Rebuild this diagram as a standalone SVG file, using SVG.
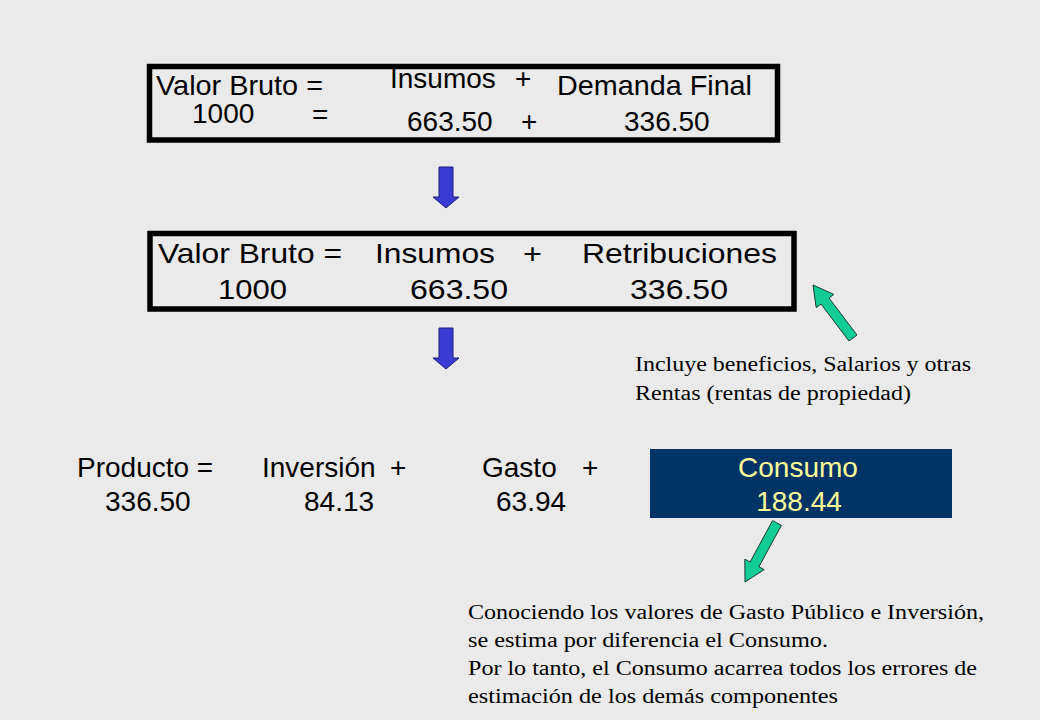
<svg xmlns="http://www.w3.org/2000/svg" width="1040" height="720" viewBox="0 0 1040 720">
<style>
.bg{fill:#eaeaea}
.box{fill:none;stroke:#000;stroke-width:5.5}
.s{font-family:"Liberation Sans",Arial,sans-serif;font-size:28px;fill:#000}
.y{fill:#ffff99}
.t{font-family:"Liberation Serif","Times New Roman",serif;font-size:20px;fill:#000}
.blue{fill:#3a3ad4;stroke:#1c1c7a;stroke-width:1}
.teal{fill:#12cc96;stroke:#1b3b30;stroke-width:1}
</style>
<defs>
<polygon id="downArrow" points="439,167 453,167 453,197 459,197 446,208 433,197 439,197"/>
</defs>
<rect class="bg" x="0" y="0" width="1040" height="720"/>

<g id="eq1">
<rect class="box" x="149.5" y="66.5" width="628" height="73.5"/>
<text class="s" x="156" y="95" textLength="167" lengthAdjust="spacingAndGlyphs">Valor Bruto =</text>
<text class="s" x="390" y="88">Insumos</text>
<text class="s" x="515" y="88">+</text>
<text class="s" x="557" y="95" textLength="195" lengthAdjust="spacingAndGlyphs">Demanda Final</text>
<text class="s" x="192" y="123">1000</text>
<text class="s" x="312" y="124">=</text>
<text class="s" x="407" y="131">663.50</text>
<text class="s" x="521" y="131">+</text>
<text class="s" x="624" y="131">336.50</text>
</g>

<g id="eq2">
<rect class="box" x="150" y="233.5" width="644" height="75.5"/>
<text class="s" x="158" y="263" textLength="184" lengthAdjust="spacingAndGlyphs">Valor Bruto =</text>
<text class="s" x="375" y="263" textLength="120" lengthAdjust="spacingAndGlyphs">Insumos</text>
<text class="s" x="523" y="263" textLength="19" lengthAdjust="spacingAndGlyphs">+</text>
<text class="s" x="582" y="263" textLength="195" lengthAdjust="spacingAndGlyphs">Retribuciones</text>
<text class="s" x="218" y="299" textLength="69" lengthAdjust="spacingAndGlyphs">1000</text>
<text class="s" x="410" y="299" textLength="98" lengthAdjust="spacingAndGlyphs">663.50</text>
<text class="s" x="630" y="299" textLength="98" lengthAdjust="spacingAndGlyphs">336.50</text>
</g>

<g id="note1">
<text class="t" x="635" y="371" textLength="336" lengthAdjust="spacingAndGlyphs">Incluye beneficios, Salarios y otras</text>
<text class="t" x="635" y="400" textLength="276" lengthAdjust="spacingAndGlyphs">Rentas (rentas de propiedad)</text>
</g>

<g id="eq3">
<text class="s" x="77" y="477">Producto =</text>
<text class="s" x="262" y="477">Inversión</text>
<text class="s" x="390" y="477">+</text>
<text class="s" x="482" y="477">Gasto</text>
<text class="s" x="582" y="477">+</text>
<text class="s" x="105" y="511">336.50</text>
<text class="s" x="304" y="511">84.13</text>
<text class="s" x="496" y="511">63.94</text>
</g>

<g id="consumo">
<rect x="650" y="449" width="302" height="69" fill="#003366"/>
<text class="s y" x="798" y="477" text-anchor="middle">Consumo</text>
<text class="s y" x="799" y="511" text-anchor="middle">188.44</text>
</g>

<g id="note2">
<text class="t" x="468" y="619" textLength="516" lengthAdjust="spacingAndGlyphs">Conociendo los valores de Gasto Público e Inversión,</text>
<text class="t" x="468" y="647" textLength="360" lengthAdjust="spacingAndGlyphs">se estima por diferencia el Consumo.</text>
<text class="t" x="468" y="675" textLength="509" lengthAdjust="spacingAndGlyphs">Por lo tanto, el Consumo acarrea todos los errores de</text>
<text class="t" x="468" y="703" textLength="370" lengthAdjust="spacingAndGlyphs">estimación de los demás componentes</text>
</g>

<g id="connectors">
<use href="#downArrow" class="blue"/>
<use href="#downArrow" class="blue" transform="translate(0,161)"/>
<polygon class="teal" points="857,335 829,298 833.8,294.4 813,285 816.2,307.6 821,304 849,341"/>
<polygon class="teal" points="772.6,520.6 781.4,525.4 758.9,566.8 764.2,569.6 745,582 744.8,559.2 750.1,562"/>
</g>
</svg>
